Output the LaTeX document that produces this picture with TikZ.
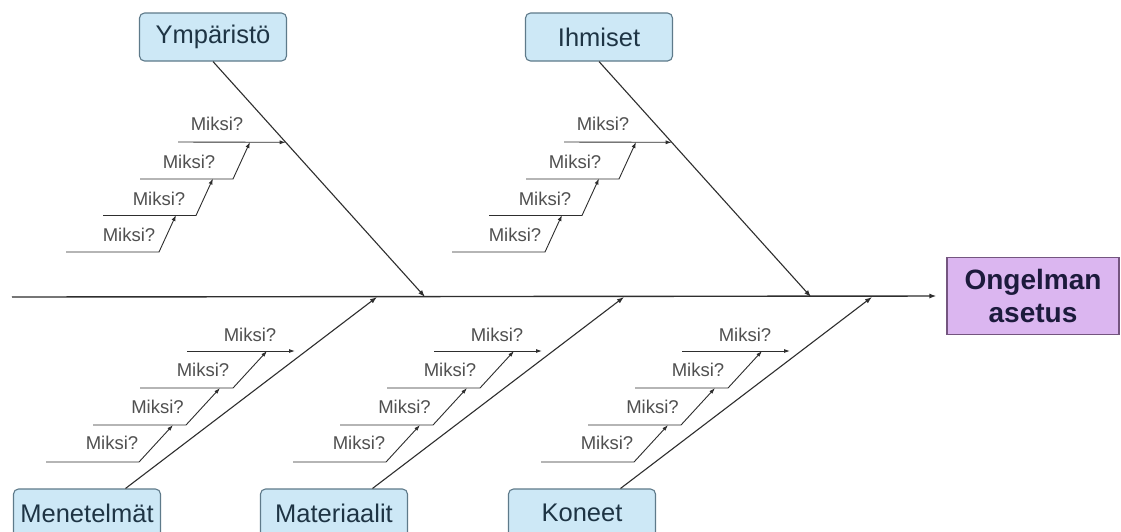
\documentclass[tikz,border=0pt]{standalone}
\usepackage{fontspec}
\setmainfont{Liberation Sans}
\usetikzlibrary{arrows.meta,calc}
\definecolor{boxfill}{HTML}{CDE8F6}
\definecolor{boxline}{HTML}{5E7A8A}
\definecolor{boxtext}{HTML}{1E3444}
\definecolor{efffill}{HTML}{DBB6F0}
\definecolor{effline}{HTML}{74557F}
\definecolor{efftext}{HTML}{1C1A3C}
\definecolor{bonegray}{HTML}{2E2E2E}
\definecolor{whygray}{HTML}{505050}

\begin{document}
\begin{tikzpicture}[
		x=1pt,y=-1pt,
		cause/.style={draw=boxline,line width=1.1pt,fill=boxfill,rounded corners=5pt,minimum width=147pt,minimum height=48pt,inner sep=0pt,text=boxtext,font=\fontsize{25.5}{27}\selectfont},
		effect/.style={draw=effline,line width=1.1pt,fill=efffill,minimum width=172pt,minimum height=77pt,inner sep=0pt,align=center,text=efftext,font=\bfseries\fontsize{28}{33}\selectfont},
		bone/.style={draw=bonegray,line width=1.1pt,-{Latex[length=7pt,width=5pt]}},
		whyline/.style={draw=bonegray,line width=0.9pt,-{Latex[length=6pt,width=4pt]}},
		why/.style={text=whygray,font=\fontsize{18.5}{20}\selectfont,inner sep=0pt}
	]
	\useasboundingbox (0,0) rectangle (1121,531);
	\clip (0,0) rectangle (1121,531);
	\fill[white] (0,0) rectangle (1121,531);

	\coordinate (tail) at (12,297);
	\node[effect] (problem) at (1033,296) {Ongelman\\asetus};
	\draw[bone,line width=1.4pt,shorten >=10pt] (tail) -- (problem.west);

	% upper causes
	\foreach \dx/\id/\lbl in {0/ymp/Ympäristö,386/ihm/Ihmiset}{
		\node[cause] (\id) at (213+\dx,37) {\lbl};
		\coordinate (\id-end) at (425+\dx,297);
		\draw[bone] (\id.south) -- (\id-end);
		\coordinate (\id-top) at (178+\dx,142);
		\coordinate (\id-hit) at ($(\id.south)!0.343!(\id-end)$);
		\draw[whyline] (\id-top) -- (\id-hit);
		\node[why] (\id-q) at (217+\dx,124) {Miksi?};
		\foreach \k in {0,1,2}{
			\coordinate (\id-a\k) at (140-37*\k+\dx,179+36.5*\k);
			\coordinate (\id-c\k) at (233-37*\k+\dx,179+36.5*\k);
			\coordinate (\id-t\k) at (250-37*\k+\dx,142+36.5*\k);
			\draw[whyline] (\id-a\k) -- (\id-c\k) -- (\id-t\k);
			\node[why] (\id-q\k) at (189-30*\k+\dx,162+36.5*\k) {Miksi?};
		}
	}

	% lower causes
	\foreach \dx/\id/\lbl in {0/men/Menetelmät,247/mat/Materiaalit,495/kon/Koneet}{
		\node[cause] (\id) at (87+\dx,513) {\lbl};
		\coordinate (\id-end) at (377+\dx,297);
		\draw[bone] ($(\id.north)!0.52!(\id.north east)$) -- (\id-end);
		\coordinate (\id-top) at (187+\dx,351);
		\coordinate (\id-hit) at (295+\dx,351);
		\draw[whyline] (\id-top) -- (\id-hit);
		\node[why] (\id-q) at (250+\dx,335) {Miksi?};
		\foreach \k in {0,1,2}{
			\coordinate (\id-a\k) at (140-47*\k+\dx,388+37*\k);
			\coordinate (\id-c\k) at (233-47*\k+\dx,388+37*\k);
			\coordinate (\id-t\k) at (267-47*\k+\dx,351+37*\k);
			\draw[whyline] (\id-a\k) -- (\id-c\k) -- (\id-t\k);
			\node[why] (\id-q\k) at (203-45.5*\k+\dx,370+36.5*\k) {Miksi?};
		}
	}
\end{tikzpicture}
\end{document}
